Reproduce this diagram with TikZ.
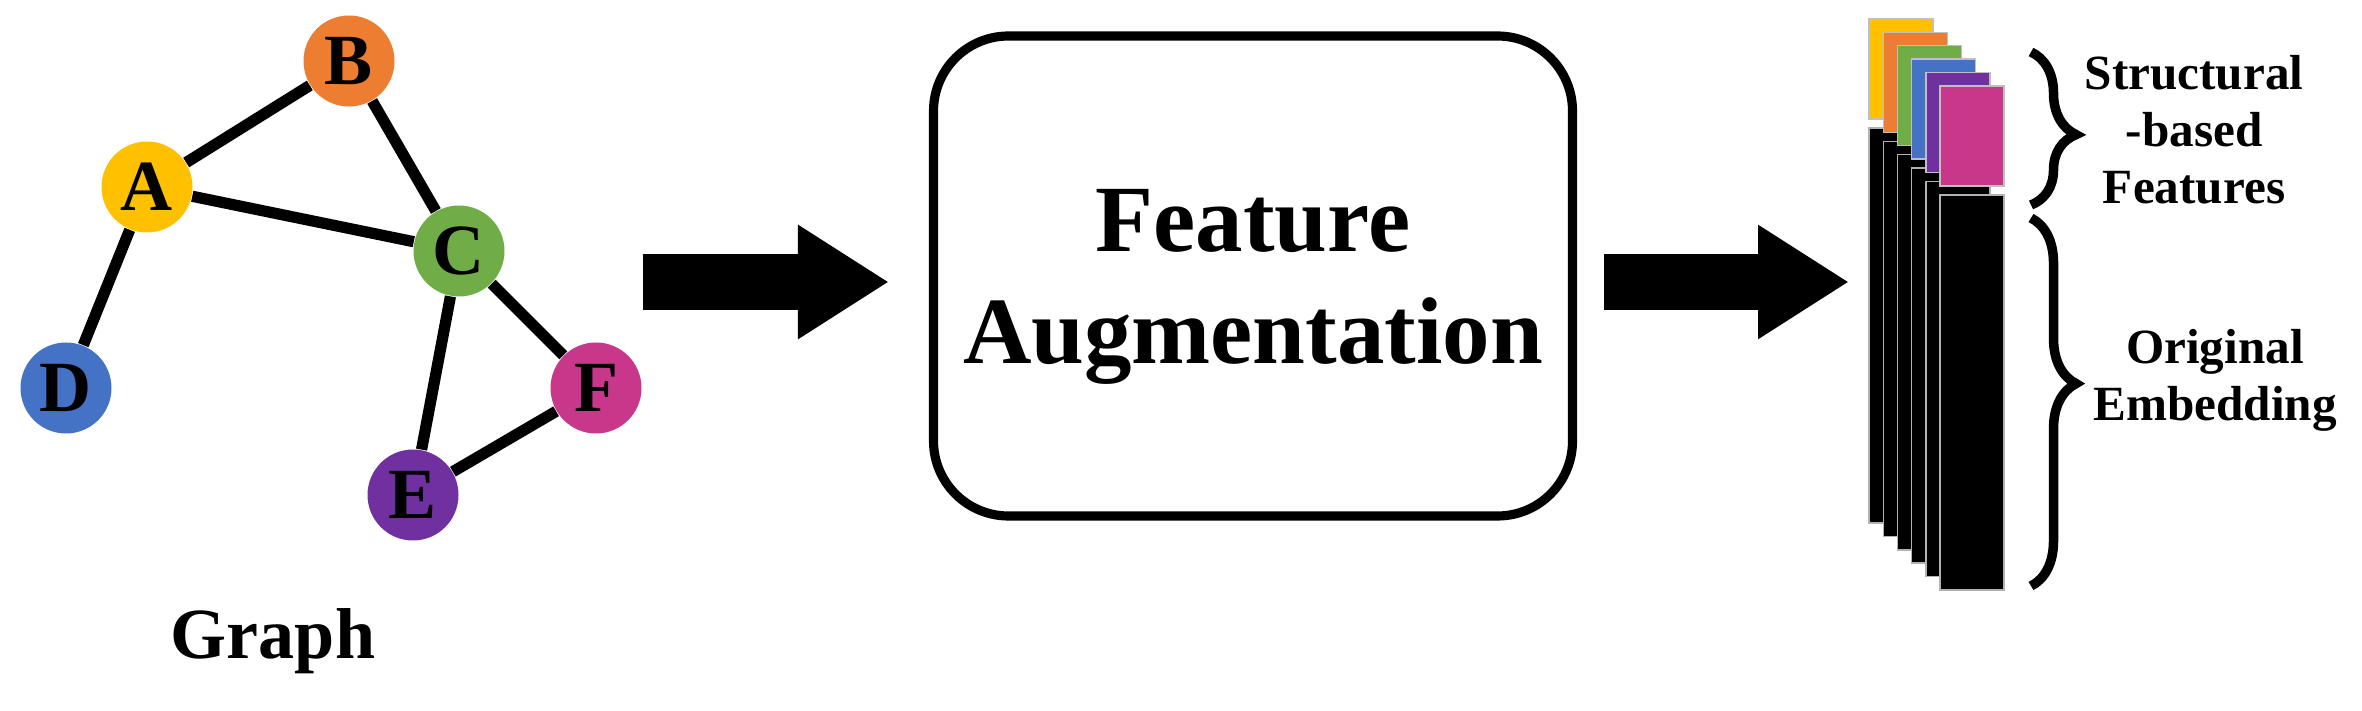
\documentclass[tikz,border=0pt]{standalone}
\usepackage{fontspec}
\setmainfont{Liberation Serif}
\usetikzlibrary{arrows.meta,decorations.pathreplacing}
\definecolor{cA}{HTML}{FFC000}
\definecolor{cB}{HTML}{ED7D31}
\definecolor{cC}{HTML}{70AD47}
\definecolor{cD}{HTML}{4472C4}
\definecolor{cE}{HTML}{7030A0}
\definecolor{cF}{HTML}{C8378A}
\begin{document}
\begin{tikzpicture}[
    vertex/.style={circle, inner sep=0pt, minimum size=0.91cm, font=\bfseries\fontsize{20.5}{22}\selectfont},
    edge/.style={line width=3.2pt},
    bigarrow/.style={line width=15.9pt, -{Triangle[length=25.9pt, width=30.7pt]}},
    brace/.style={decorate, decoration={brace, amplitude=0.45cm, aspect=#1}, line width=2.7pt},
    label/.style={align=center, font=\bfseries\fontsize{14}{16.2}\selectfont}
]
    \useasboundingbox (0,0) rectangle (23.62,-7.11);

    % graph
    \node[vertex, fill=cA] (A) at (1.47,-1.87) {A};
    \node[vertex, fill=cB] (B) at (3.49,-0.61) {B};
    \node[vertex, fill=cC] (C) at (4.59,-2.51) {C};
    \node[vertex, fill=cD] (D) at (0.66,-3.88) {D};
    \node[vertex, fill=cE] (E) at (4.13,-4.95) {E};
    \node[vertex, fill=cF] (F) at (5.96,-3.88) {F};

    \draw[edge] (A) -- (B);
    \draw[edge] (B) -- (C);
    \draw[edge] (A) -- (C);
    \draw[edge] (A) -- (D);
    \draw[edge] (C) -- (E);
    \draw[edge] (C) -- (F);
    \draw[edge] (E) -- (F);

    \node[font=\bfseries\fontsize{20.5}{22}\selectfont, anchor=base] (graph) at (2.73,-6.59) {Graph};

    % augmentation
    \node[draw, line width=2.6pt, rounded corners=0.75cm, minimum width=6.39cm, minimum height=4.8cm] (aug) at (12.53,-2.76) {};
    \node[align=center, font=\bfseries\fontsize{27}{32}\selectfont] (augtext) at (12.53,-2.87) {Feature\\Augmentation};

    \coordinate (a1s) at (6.43,-2.82);
    \coordinate (a1e) at (8.89,-2.82);
    \coordinate (a2s) at (16.04,-2.82);
    \coordinate (a2e) at (18.49,-2.82);
    \draw[bigarrow] (a1s) -- (a1e);
    \draw[bigarrow] (a2s) -- (a2e);

    % feature stack
    \foreach \c [count=\i from 0] in {cA,cB,cC,cD,cE,cF} {
        \fill[\c, draw=gray!50, line width=0.4pt] (18.69+0.142*\i,-0.19-0.134*\i) rectangle ++(0.64,-1.00);
        \fill[black, draw=gray!60, line width=0.4pt] (18.69+0.142*\i,-1.28-0.134*\i) rectangle ++(0.64,-3.95);
    }

    % braces
    \coordinate (s1) at (20.31,-0.52);
    \coordinate (s2) at (20.31,-2.05);
    \coordinate (o1) at (20.31,-2.18);
    \coordinate (o2) at (20.31,-5.86);
    \draw[brace=0.54] (s1) -- (s2);
    \draw[brace=0.45] (o1) -- (o2);

    \node[label] (struct) at (21.94,-1.30) {Structural\\-based\\Features};
    \node[label] (orig) at (22.15,-3.80) {Original\\Embedding};
\end{tikzpicture}
\end{document}
